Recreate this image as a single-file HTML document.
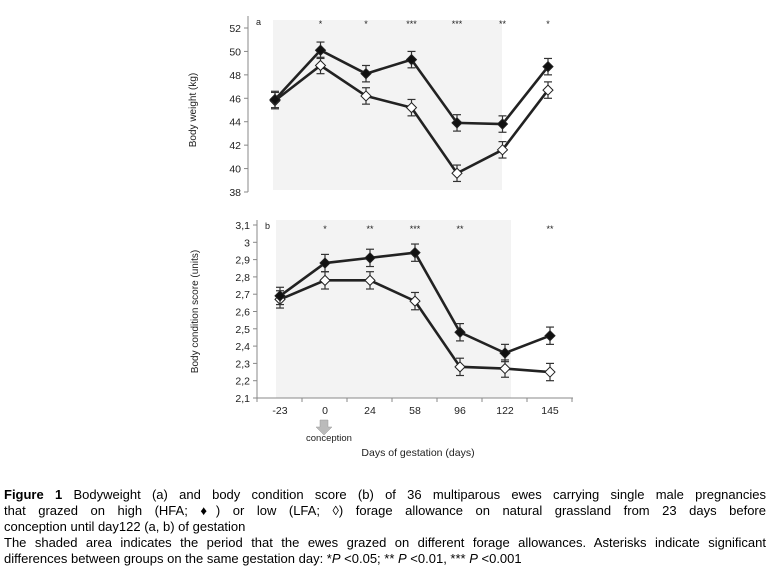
<!DOCTYPE html>
<html><head><meta charset="utf-8"><style>
body{margin:0;background:#fff;width:780px;height:576px;overflow:hidden;font-family:"Liberation Sans",Arial,sans-serif}
svg text{font-family:"Liberation Sans",Arial,sans-serif}
.cap{position:absolute;left:4px;width:762px;font-size:13px;line-height:16px;color:#000}
.j{text-align:justify;text-align-last:justify}
</style></head><body>
<svg id="chart" width="780" height="480" style="position:absolute;left:0;top:0"></svg>
<div class="cap" style="top:487px">
<div class="j"><b>Figure 1</b> Bodyweight (a) and body condition score (b) of 36 multiparous ewes carrying single male pregnancies</div>
<div class="j">that grazed on high (HFA; ♦) or low (LFA; ◊) forage allowance on natural grassland from 23 days before</div>
<div>conception until day122 (a, b) of gestation</div>
<div class="j">The shaded area indicates the period that the ewes grazed on different forage allowances. Asterisks indicate significant</div>
<div>differences between groups on the same gestation day: *<i>P</i> &lt;0.05; ** <i>P</i> &lt;0.01, *** <i>P</i> &lt;0.001</div>
</div>
<script>
const days=["-23","0","24","58","96","122","145"];
const bwHFA=[45.9,50.1,48.1,49.3,43.9,43.8,48.7];
const bwLFA=[45.8,48.8,46.2,45.2,39.6,41.6,46.7];
const bwErr=[0.7,0.7,0.7,0.7,0.7,0.7,0.7];
const bwTicks=[38,40,42,44,46,48,50,52];
const bwSig=["","*","*","***","***","**","*"];
const bcsHFA=[2.69,2.88,2.91,2.94,2.48,2.36,2.46];
const bcsLFA=[2.67,2.78,2.78,2.66,2.28,2.27,2.25];
const bcsErr=[0.05,0.05,0.05,0.05,0.05,0.05,0.05];
const bcsTicks=["2,1","2,2","2,3","2,4","2,5","2,6","2,7","2,8","2,9","3","3,1"];
const bcsSig=["","*","**","***","**","","**"];
const svg=document.getElementById('chart');
const NS="http://www.w3.org/2000/svg";
function mk(t,a,p){const e=document.createElementNS(NS,t);for(const k in a)e.setAttribute(k,a[k]);(p||svg).appendChild(e);return e;}
function panel(o){
  const g=mk('g',{});
  
  
  const y=v=>o.y0+(v-o.vmin)/(o.vmax-o.vmin)*(o.y1-o.y0);
  const x=i=>o.x0+i*o.dx;
  const sh=mk('rect',{x:o.sx0,y:o.sy0,width:o.sx1-o.sx0,height:o.sy1-o.sy0,fill:'#f3f3f3'},g);
  
  
  mk('line',{x1:o.ax,x2:o.ax,y1:o.axTop,y2:o.y0,stroke:'#888','stroke-width':1},g);
  o.ticks.forEach((t,i)=>{
    const v=o.vmin+i*o.step, yy=y(v);
    mk('line',{x1:o.ax-4,x2:o.ax,y1:yy,y2:yy,stroke:'#888'},g);
    const tx=mk('text',{x:o.ax-7,y:yy+4,'text-anchor':'end','font-size':10.5,fill:'#222'},g);tx.textContent=t;
  });
  const lab=mk('text',{transform:`translate(${o.labX},${(o.y0+o.y1)/2}) rotate(-90)`,'text-anchor':'middle','font-size':10,fill:'#222'},g);
  lab.textContent=o.label;
  
  
  const pl=mk('text',{x:o.ax+8,y:o.axTop+9,'font-size':9,fill:'#222'},g);pl.textContent=o.panelLabel;
  o.sig.forEach((s,i)=>{if(!s)return;const t=mk('text',{x:x(i),y:o.sigY,'text-anchor':'middle','font-size':9,fill:'#222'},g);t.textContent=s;});
  [[o.lfa,false],[o.hfa,true]].forEach(([d,filled])=>{
    mk('polyline',{points:d.map((v,i)=>x(i)+','+y(v)).join(' '),fill:'none',stroke:'#222','stroke-width':2.6},g);
  });
  [[o.lfa,false],[o.hfa,true]].forEach(([d,filled])=>{
    d.forEach((v,i)=>{
      const cx=x(i),cy=y(v),e=o.err[i];
      const ya=y(v+e),yb=y(v-e);
      mk('line',{x1:cx,x2:cx,y1:ya,y2:yb,stroke:'#333','stroke-width':1.2},g);
      mk('line',{x1:cx-4,x2:cx+4,y1:ya,y2:ya,stroke:'#333','stroke-width':1.2},g);
      mk('line',{x1:cx-4,x2:cx+4,y1:yb,y2:yb,stroke:'#333','stroke-width':1.2},g);
      const m=mk('polygon',{points:`${cx},${cy-5} ${cx+5},${cy} ${cx},${cy+5} ${cx-5},${cy}`,fill:filled?'#111':'#fff',stroke:'#222','stroke-width':1},g);
      
      
    });
  });
  return {x,y,g};
}
panel({name:'body-weight-panel',ax:248,axTop:16,y0:192,y1:28,vmin:38,vmax:52,step:2,ticks:bwTicks,
  x0:275,dx:45.5,sx0:273,sx1:502,sy0:20,sy1:190,labX:196,label:'Body weight (kg)',panelLabel:'a',
  sig:bwSig,sigY:27,hfa:bwHFA,lfa:bwLFA,err:bwErr});
const p2=panel({name:'body-condition-panel',ax:257,axTop:220,y0:398,y1:225,vmin:2.1,vmax:3.1,step:0.1,ticks:bcsTicks,
  x0:280,dx:45,sx0:276,sx1:511,sy0:220,sy1:398,labX:198,label:'Body condition score (units)',panelLabel:'b',
  sig:bcsSig,sigY:232,hfa:bcsHFA,lfa:bcsLFA,err:bcsErr});
mk('line',{x1:257,x2:573,y1:398,y2:398,stroke:'#888'});
for(let i=0;i<=7;i++){const xx=257+i*45;mk('line',{x1:xx,x2:xx,y1:398,y2:402,stroke:'#888'});}
days.forEach((d,i)=>{const t=mk('text',{x:p2.x(i),y:414,'text-anchor':'middle','font-size':10.5,fill:'#222'});t.textContent=d;
  });
const ar=mk('polygon',{points:'320,420 328,420 328,427 332,427 324,435 316,427 320,427',fill:'#bbb',stroke:'#999','stroke-width':0.5});

const ct=mk('text',{x:329,y:441,'text-anchor':'middle','font-size':9.5,fill:'#222'});ct.textContent='conception';
const xt=mk('text',{x:418,y:456,'text-anchor':'middle','font-size':10.5,fill:'#222'});xt.textContent='Days of gestation (days)';

</script>
</body></html>
